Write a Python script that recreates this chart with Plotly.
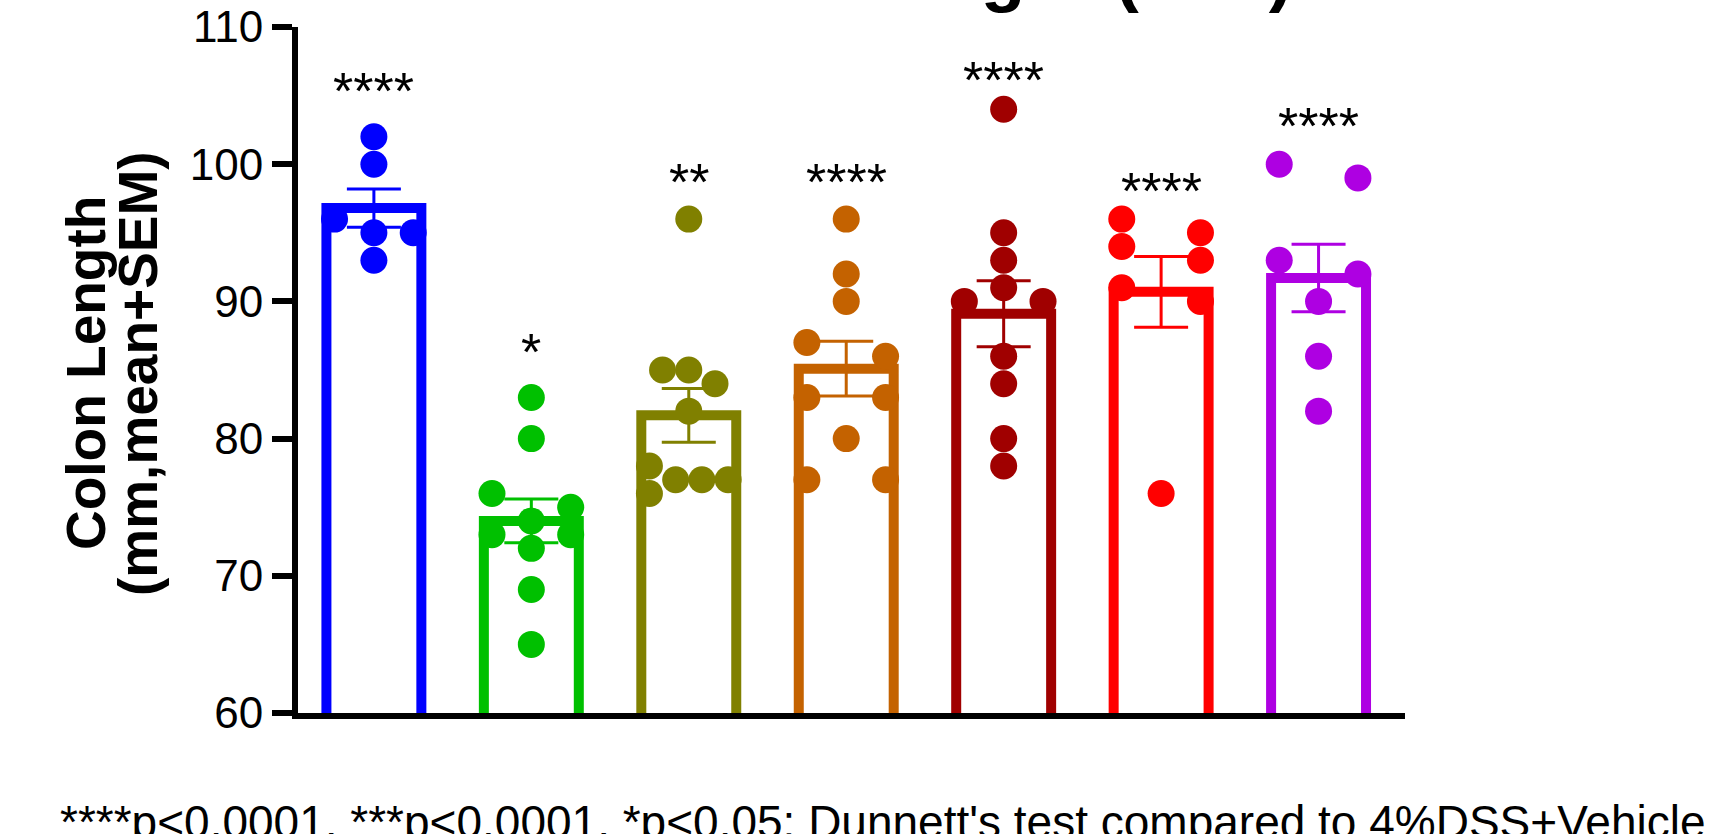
import plotly.graph_objects as go

# ---------------- data ----------------
groups = ["Normal", "4%DSS+Vehicle", "Group 3", "Group 4", "Group 5", "Group 6", "Group 7"]
colors = ["#0000FF", "#00C000", "#808000", "#C46200", "#A00000", "#FF0000", "#AE00E2"]

means = [96.8, 74.0, 81.7, 85.1, 89.1, 90.7, 91.7]
sems = [1.4, 1.6, 1.96, 2.0, 2.4, 2.58, 2.46]

pts_g1 = [102, 100, 96, 95, 95, 93]
pts_g2 = [83, 80, 76, 75, 74, 73, 73, 72, 69, 65]
pts_g3 = [96, 85, 85, 84, 82, 78, 77, 77, 77, 76]
pts_g4 = [96, 92, 90, 87, 86, 83, 83, 80, 77, 77]
pts_g5 = [104, 95, 93, 91, 90, 90, 86, 84, 80, 78]
pts_g6 = [96, 94, 95, 93, 91, 90, 76]
pts_g7 = [100, 99, 93, 92, 90, 86, 82]

# horizontal slot of each dot (scatter-dot-plot column, -3 .. +3)
slot_g1 = [0, 0, -3, 0, 3, 0]
slot_g2 = [0, 0, -3, 3, 0, -3, 3, 0, 0, 0]
slot_g3 = [0, -2, 0, 2, 0, -3, -1, 1, 3, -3]
slot_g4 = [0, 0, 0, -3, 3, -3, 3, 0, -3, 3]
slot_g5 = [0, 0, 0, 0, -3, 3, 0, 0, 0, 0]
slot_g6 = [-3, -3, 3, 3, -3, 3, 0]
slot_g7 = [-3, 3, -3, 3, 0, 0, 0]

stars = ["****", "*", "**", "****", "****", "****", "****"]
star_y = [105.9, 86.9, 99.3, 99.3, 106.7, 98.6, 103.4]

yticks = [60, 70, 80, 90, 100, 110]
title_text = "Colon Length (mm)"
ytitle_1 = "Colon Length"
ytitle_2 = "(mm,mean+SEM)"
footnote = "****p<0.0001, ***p<0.0001, *p<0.05: Dunnett's test compared to 4%DSS+Vehicle"

points = [pts_g1, pts_g2, pts_g3, pts_g4, pts_g5, pts_g6, pts_g7]
slots = [slot_g1, slot_g2, slot_g3, slot_g4, slot_g5, slot_g6, slot_g7]

# ---------------- style ----------------
FONT = "Arial, Liberation Sans, Helvetica, sans-serif"
BAR_W = 0.603
SLOT = 0.0833
W, H = 1711, 834
ML, MR, MT, MB = 298, 306, 27, 121

fig = go.Figure()

for i, g in enumerate(groups):
    fig.add_trace(go.Bar(
        x=[i], y=[means[i]], width=BAR_W, name=g,
        marker=dict(color="white", line=dict(color=colors[i], width=10)),
        error_y=dict(type="data", array=[sems[i]], symmetric=True,
                     color=colors[i], thickness=3, width=27),
        showlegend=False, hoverinfo="skip",
    ))

for i, g in enumerate(groups):
    fig.add_trace(go.Scatter(
        x=[i + s * SLOT for s in slots[i]], y=points[i], mode="markers",
        marker=dict(size=27, color=colors[i], line=dict(width=0)),
        showlegend=False, cliponaxis=False, hoverinfo="skip",
    ))

annotations = []
for i, s in enumerate(stars):
    annotations.append(dict(x=i, y=star_y[i], xref="x", yref="y", text=s,
                            showarrow=False, yanchor="middle", xanchor="center",
                            yshift=-8, font=dict(family=FONT, size=52, color="black")))

annotations.append(dict(x=-0.191, y=0.495, xref="paper", yref="paper",
                        text="<b>" + ytitle_1 + "</b>", textangle=-90, showarrow=False,
                        xanchor="center", yanchor="middle",
                        font=dict(family=FONT, size=55, color="black")))
annotations.append(dict(x=-0.144, y=0.495, xref="paper", yref="paper",
                        text="<b>" + ytitle_2 + "</b>", textangle=-90, showarrow=False,
                        xanchor="center", yanchor="middle",
                        font=dict(family=FONT, size=55, color="black")))
annotations.append(dict(x=0.597, y=1.0175, xref="paper", yref="paper",
                        text="<b>" + title_text + "</b>", showarrow=False,
                        xanchor="center", yanchor="bottom",
                        font=dict(family=FONT, size=73, color="black")))
annotations.append(dict(x=-0.2165, y=-0.1182, xref="paper", yref="paper",
                        text=footnote, showarrow=False,
                        xanchor="left", yanchor="top",
                        font=dict(family=FONT, size=46, color="black")))

fig.update_layout(
    width=W, height=H,
    margin=dict(l=ML, r=MR, t=MT, b=MB, pad=0, autoexpand=False),
    barmode="overlay",
    plot_bgcolor="white", paper_bgcolor="white",
    font=dict(family=FONT, color="black"),
    annotations=annotations,
    xaxis=dict(range=[-0.482, 6.549], showticklabels=False, ticks="",
               showgrid=False, zeroline=False, showline=True, automargin=False,
               linecolor="black", linewidth=6),
    yaxis=dict(range=[60, 110], tickvals=yticks, ticks="outside", ticklen=20,
               tickwidth=6, tickcolor="black", showline=True, linecolor="black",
               linewidth=6, showgrid=False, zeroline=False, automargin=False,
               tickfont=dict(family=FONT, size=44, color="black")),
)

fig.write_html("out.html", config={"displayModeBar": False},
               post_script="document.body.style.margin='0';document.body.style.overflow='hidden';")
